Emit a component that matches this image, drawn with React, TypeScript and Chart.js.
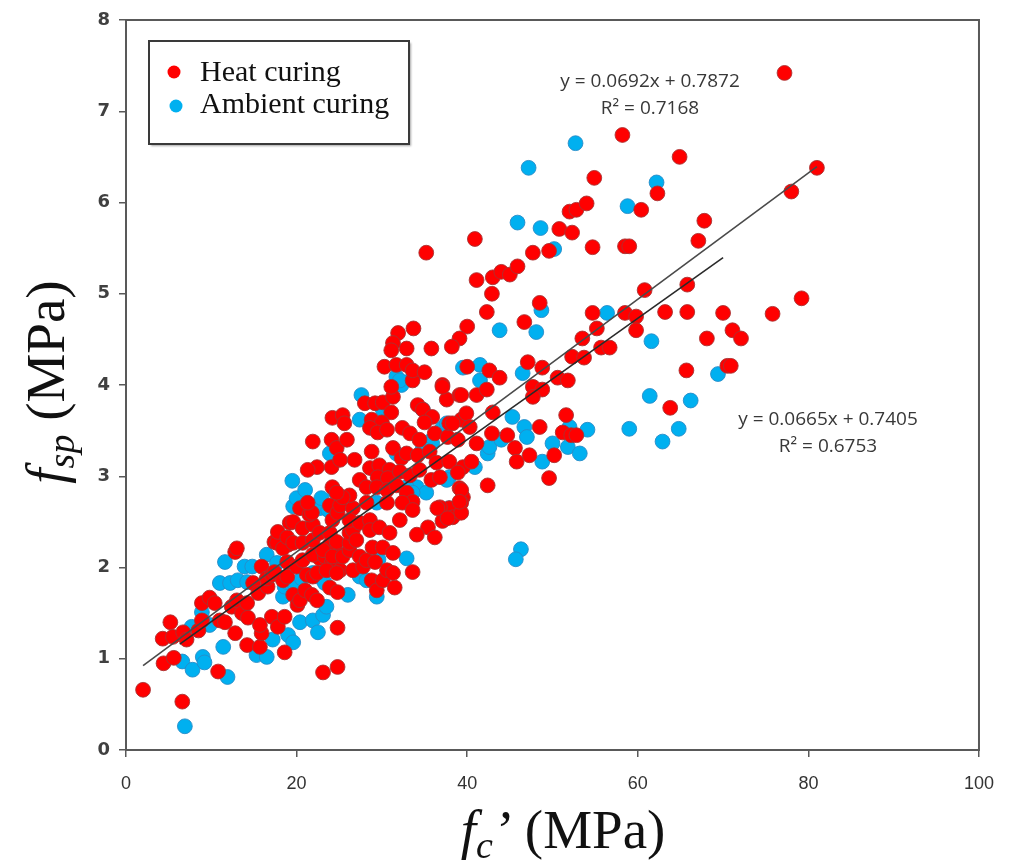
import React, { useEffect, useRef } from "react";
import { Chart, registerables } from "chart.js";

Chart.register(...registerables);

// ---- data ----
const seriesNames = ["Heat curing", "Ambient curing"];

const heatCuring: number[][] = [
  [2.0,0.66],[6.6,0.53],[4.4,0.95],[5.6,1.01],[4.3,1.22],[5.5,1.24],[5.2,1.40],[6.7,1.29],[7.1,1.21],[8.5,1.31],
  [8.9,1.42],[8.9,1.61],[9.8,1.67],[10.8,0.86],[10.4,1.61],[11.0,1.42],[11.6,1.40],[12.4,1.57],[12.8,1.28],[13.0,1.64],
  [12.8,2.17],[13.0,2.21],[13.6,1.50],[14.3,1.45],[14.2,1.15],[14.2,1.61],[14.9,1.83],[15.7,1.13],[15.9,1.28],[15.7,1.37],
  [15.5,1.72],[15.9,2.01],[16.6,1.79],[16.5,1.88],[17.1,1.46],[17.8,1.35],[18.6,1.46],[18.6,1.07],[17.1,1.92],[17.4,1.95],
  [18.4,1.86],[18.9,1.90],[17.4,2.28],[17.7,2.27],[17.8,2.39],[19.0,2.25],[18.4,2.21],[18.9,2.33],[18.9,2.06],[19.2,2.49],
  [19.6,2.50],[19.6,2.27],[19.6,1.70],[20.1,1.59],[20.4,1.64],[20.0,2.01],[20.7,2.08],[20.7,2.27],[20.7,2.43],[20.4,2.65],
  [21.0,1.75],[21.2,1.92],[21.8,1.70],[21.9,1.90],[22.4,1.64],[22.4,1.94],[22.7,2.10],[21.9,2.14],[21.9,2.30],[21.9,2.47],
  [21.5,2.58],[21.8,2.60],[21.3,2.71],[22.7,2.38],[23.1,0.85],[24.8,0.91],[24.8,1.34],[23.9,1.78],[24.8,1.73],[23.3,2.12],
  [24.1,2.05],[24.8,2.16],[23.9,2.25],[25.1,1.97],[23.5,1.97],[24.7,1.94],[23.1,2.19],[24.2,2.12],[23.9,2.38],[24.2,2.52],
  [23.9,2.68],[24.8,2.60],[25.1,2.68],[24.7,2.28],[25.4,2.12],[26.2,2.19],[26.2,2.27],[26.2,2.38],[26.6,2.41],[26.6,2.65],
  [26.2,2.52],[26.2,2.79],[25.4,2.77],[24.2,2.88],[24.7,2.82],[26.6,1.97],[27.0,2.30],[27.4,2.12],[27.8,2.01],[27.4,2.49],
  [28.2,2.71],[28.6,2.52],[28.6,2.41],[28.2,2.08],[28.8,1.86],[28.9,2.22],[29.2,2.06],[29.4,1.75],[29.7,2.44],[30.1,1.86],
  [30.1,2.22],[30.6,1.97],[30.9,2.38],[31.3,1.94],[31.3,2.16],[31.5,1.78],[32.1,2.52],[33.6,1.95],
  [21.9,3.38],[22.4,3.10],[21.3,3.07],[24.1,3.10],[24.1,3.40],[24.7,3.31],[25.1,3.18],[25.9,3.40],[26.8,3.18],[24.2,3.64],
  [25.4,3.67],[25.6,3.58],[28.0,3.80],[29.2,3.80],[30.1,3.81],[31.3,3.87],[31.1,3.98],[33.6,4.05],[31.1,3.70],[28.8,3.62],
  [30.0,3.59],[28.6,3.53],[29.5,3.48],[30.6,3.51],[32.4,3.53],[33.3,3.47],[34.2,3.78],[34.8,3.73],[35.9,3.65],[35.0,3.59],
  [34.4,3.40],[36.2,3.47],[37.7,3.43],[37.9,3.58],[38.9,3.40],[39.3,3.62],[37.1,4.00],[37.6,3.84],[39.1,3.89],[28.8,3.27],
  [31.3,3.31],[32.3,3.20],[32.9,3.25],[34.2,3.23],[35.6,3.27],[36.4,3.15],[37.9,3.16],[39.5,3.10],[28.6,3.09],[29.7,3.12],
  [30.9,3.07],[29.5,2.99],[30.7,2.98],[32.1,3.05],[33.3,3.01],[34.4,3.07],[35.8,2.96],[36.8,2.99],[38.9,3.04],[27.4,2.96],
  [28.2,2.88],[29.4,2.88],[30.6,2.85],[31.7,2.90],[32.9,2.82],[33.6,2.72],[32.4,2.71],[30.6,2.71],[39.1,2.87],[39.5,2.77],
  [39.3,2.71],[37.9,2.65],[36.8,2.66],[38.3,2.55],[39.3,2.60],[37.1,2.51],[35.4,2.44],[34.1,2.36],[36.2,2.33],[36.5,2.65],
  [37.7,2.54],[33.6,2.63],
  [33.7,4.62],[31.9,4.57],[31.3,4.46],[31.1,4.38],[32.9,4.40],[35.8,4.40],[30.3,4.20],[31.7,4.22],[32.9,4.22],[33.6,4.16],
  [35.0,4.14],[35.2,5.45],[40.9,5.60],[41.1,5.15],[43.0,5.18],[44.0,5.24],[45.0,5.21],[45.9,5.30],[42.9,5.00],[42.3,4.80],
  [40.0,4.64],[39.1,4.51],[38.2,4.42],[40.0,4.20],[42.6,4.16],[43.8,4.08],[37.1,3.98],[39.3,3.89],[41.1,3.89],[42.3,3.95],
  [43.0,3.70],[38.3,3.58],[39.9,3.69],[40.3,3.54],[41.1,3.36],[40.5,3.16],[39.3,2.85],[39.1,2.72],[42.9,3.47],[44.7,3.45],
  [45.6,3.31],[45.8,3.16],[47.3,3.23],[50.2,3.23],[48.5,3.54],[51.6,3.67],[51.2,3.48],[52.2,3.45],[52.8,3.45],[49.6,2.98],
  [42.4,2.90],[46.7,4.69],[48.5,4.90],[47.1,4.25],[48.8,4.19],[50.6,4.08],[51.8,4.05],[47.7,3.98],[48.8,3.95],[47.7,3.87],
  [47.7,5.45],[49.6,5.47],[50.8,5.71],[52.3,5.67],[52.0,5.90],[52.8,5.92],[54.0,5.99],[54.9,6.27],[54.7,5.51],[58.5,5.52],
  [59.0,5.52],[58.2,6.74],[60.4,5.92],[62.3,6.10],[64.9,6.50],[67.8,5.80],[67.1,5.58],[60.8,5.04],[65.8,5.10],[54.7,4.79],
  [55.2,4.62],[53.5,4.51],[55.7,4.41],[56.7,4.41],[52.3,4.31],[53.7,4.30],[58.5,4.79],[59.8,4.75],[59.8,4.60],[63.2,4.80],
  [65.8,4.80],[68.1,4.51],[70.0,4.79],[71.1,4.60],[72.1,4.51],[75.8,4.78],[79.2,4.95],[77.2,7.42],[81.0,6.38],[78.0,6.12],
  [65.7,4.16],[70.5,4.21],[70.9,4.21],[63.8,3.75]
];

const ambientCuring: number[][] = [
  [6.9,0.26],[6.6,0.97],[7.8,0.88],[9.0,1.02],[9.2,0.96],[11.9,0.80],[11.4,1.13],[7.7,1.35],[8.9,1.51],[9.8,1.37],
  [11.6,2.06],[11.0,1.83],[12.2,1.83],[13.1,1.86],[14.2,1.84],[13.9,2.01],[14.8,2.01],[15.3,1.04],[16.5,1.02],[17.2,1.21],
  [19.0,1.26],[19.6,1.18],[20.4,1.40],[21.9,1.42],[22.5,1.29],[23.1,1.48],[23.5,1.57],[18.4,1.68],[18.6,1.79],[18.9,1.84],
  [19.8,1.81],[20.6,1.88],[16.5,2.14],[17.7,2.05],[21.9,1.94],[22.5,1.90],[23.3,1.83],[27.4,1.90],[29.4,1.68],[26.0,1.70],
  [28.2,1.86],[29.6,2.09],[32.9,2.10],[19.6,2.67],[22.7,2.65],[23.7,2.63],[20.0,2.76],[19.5,2.95],[21.0,2.85],[22.9,2.76],
  [24.5,2.83],[29.4,2.71],[23.9,3.25],[27.4,3.62],[27.6,3.89],[30.1,3.73],[31.7,3.25],[32.4,4.03],[31.7,4.09],[33.6,4.08],
  [32.3,4.00],[34.8,3.73],[35.6,3.38],[37.1,3.53],[37.6,3.58],[35.9,3.36],[34.8,3.31],[34.1,2.88],[35.2,2.82],[32.9,2.88],
  [33.6,2.82],[37.9,2.99],[37.6,2.96],[37.9,2.65],[32.1,4.05],[39.5,4.19],[41.5,4.22],[41.5,4.05],[40.9,3.10],[42.4,3.25],
  [42.6,3.32],[44.0,3.40],[45.3,3.65],[46.7,3.54],[47.0,3.43],[48.8,3.16],[50.0,3.36],[51.8,3.32],[52.0,3.54],[53.2,3.25],
  [54.1,3.51],[46.5,4.13],[43.8,4.60],[48.1,4.58],[48.7,4.82],[56.4,4.79],[45.9,5.78],[48.6,5.72],[50.2,5.49],[47.2,6.38],
  [52.7,6.65],[58.8,5.96],[62.2,6.22],[61.6,4.48],[69.4,4.12],[61.4,3.88],[66.2,3.83],[59.0,3.52],[64.8,3.52],[62.9,3.38],
  [46.3,2.20],[45.7,2.09]
];

const xTicks = [0, 20, 40, 60, 80, 100];
const yTicks = [0, 1, 2, 3, 4, 5, 6, 7, 8];

// trend lines: slope, intercept, x-range
const heatFit = { slope: 0.0692, intercept: 0.7872, from: 2.0, to: 81.0 };
const ambientFit = { slope: 0.0665, intercept: 0.7405, from: 6.3, to: 70.0 };
const heatFitLabel = ["y = 0.0692x + 0.7872", "R\u00B2 = 0.7168"];
const ambientFitLabel = ["y = 0.0665x + 0.7405", "R\u00B2 = 0.6753"];

const RED = "#FF0000";
const BLUE = "#00B0F0";

type Part = { t: string; font: string; dy: number };

function drawRich(ctx: CanvasRenderingContext2D, parts: Part[], cx: number, y: number) {
  let total = 0;
  const widths: number[] = [];
  for (const p of parts) {
    ctx.font = p.font;
    const w = ctx.measureText(p.t).width;
    widths.push(w);
    total += w;
  }
  let x = cx - total / 2;
  ctx.textAlign = "left";
  ctx.textBaseline = "alphabetic";
  parts.forEach((p, i) => {
    ctx.font = p.font;
    ctx.fillText(p.t, x, y + p.dy);
    x += widths[i];
  });
}

const decorPlugin = {
  id: "decor",
  afterDraw(chart: any) {
    const ctx: CanvasRenderingContext2D = chart.ctx;
    const a = chart.chartArea;
    ctx.save();
    // frame
    ctx.strokeStyle = "#595959";
    ctx.lineWidth = 2;
    ctx.strokeRect(a.left, a.top, a.right - a.left, a.bottom - a.top);

    // legend box
    ctx.save();
    ctx.shadowColor = "rgba(0,0,0,0.35)";
    ctx.shadowOffsetX = 2;
    ctx.shadowOffsetY = 2;
    ctx.shadowBlur = 2;
    ctx.fillStyle = "#ffffff";
    ctx.fillRect(149, 41, 260, 103);
    ctx.restore();
    ctx.strokeStyle = "#3a3a3a";
    ctx.lineWidth = 2;
    ctx.strokeRect(149, 41, 260, 103);
    ctx.fillStyle = RED;
    ctx.beginPath(); ctx.arc(174, 72, 6.5, 0, Math.PI * 2); ctx.fill();
    ctx.fillStyle = BLUE;
    ctx.beginPath(); ctx.arc(176, 106, 6.5, 0, Math.PI * 2); ctx.fill();
    ctx.fillStyle = "#111";
    ctx.font = '30px "Liberation Serif", "Times New Roman", serif';
    ctx.textAlign = "left";
    ctx.textBaseline = "alphabetic";
    ctx.fillText(seriesNames[0], 200, 81);
    ctx.fillText(seriesNames[1], 200, 113);

    // equation annotations
    ctx.fillStyle = "#383838";
    ctx.font = '19px "Open Sans", sans-serif';
    ctx.textAlign = "center";
    ctx.fillText(heatFitLabel[0], 650, 87);
    ctx.fillText(heatFitLabel[1], 650, 114);
    ctx.fillText(ambientFitLabel[0], 828, 425);
    ctx.fillText(ambientFitLabel[1], 828, 452);

    // axis titles
    ctx.fillStyle = "#111";
    const big = 'italic 55px "Liberation Serif", "Times New Roman", serif';
    const sub = 'italic 38px "Liberation Serif", "Times New Roman", serif';
    const reg = '55px "Liberation Serif", "Times New Roman", serif';
    drawRich(ctx, [
      { t: "f", font: big, dy: 0 },
      { t: "c", font: sub, dy: 10 },
      { t: "\u2019", font: big, dy: 0 },
      { t: " (MPa)", font: reg, dy: 0 },
    ], 563, 848);

    ctx.save();
    ctx.translate(64, 382);
    ctx.rotate(-Math.PI / 2);
    drawRich(ctx, [
      { t: "f", font: big, dy: 0 },
      { t: "sp", font: sub, dy: 10 },
      { t: " (MPa)", font: reg, dy: 0 },
    ], 0, 0);
    ctx.restore();
    ctx.restore();
  },
};

function fitLine(f: { slope: number; intercept: number; from: number; to: number }) {
  return [
    { x: f.from, y: f.slope * f.from + f.intercept },
    { x: f.to, y: f.slope * f.to + f.intercept },
  ];
}

export default function App() {
  const ref = useRef<HTMLCanvasElement | null>(null);

  useEffect(() => {
    if (!ref.current) return;
    const chart = new Chart(ref.current, {
      type: "scatter",
      data: {
        datasets: [
          {
            type: "line",
            label: "heat fit",
            data: fitLine(heatFit),
            borderColor: "#4a4a4a",
            borderWidth: 1.6,
            pointRadius: 0,
            order: 0,
          } as any,
          {
            type: "line",
            label: "ambient fit",
            data: fitLine(ambientFit),
            borderColor: "#2a2a2a",
            borderWidth: 1.6,
            pointRadius: 0,
            order: 0,
          } as any,
          {
            label: seriesNames[0],
            data: heatCuring.map(([x, y]) => ({ x, y })),
            backgroundColor: RED,
            borderColor: "rgba(170,50,50,0.9)",
            borderWidth: 1,
            pointRadius: 7.4,
            order: 1,
          },
          {
            label: seriesNames[1],
            data: ambientCuring.map(([x, y]) => ({ x, y })),
            backgroundColor: BLUE,
            borderColor: "rgba(40,140,200,0.9)",
            borderWidth: 1,
            pointRadius: 7.4,
            order: 2,
          },
        ],
      },
      options: {
        responsive: false,
        animation: false,
        layout: { padding: { top: 20, right: 30, left: 0, bottom: 0 } },
        plugins: { legend: { display: false }, tooltip: { enabled: false } },
        scales: {
          x: {
            type: "linear",
            min: 0,
            max: 100,
            afterBuildTicks: (s: any) => { s.ticks = xTicks.map((v) => ({ value: v })); },
            afterFit: (s: any) => { s.height = 111; },
            grid: { drawOnChartArea: false, color: "#595959", tickLength: 7, lineWidth: 1.5 },
            border: { color: "#595959", width: 2 },
            ticks: {
              color: "#333333",
              padding: 16,
              font: { family: '"Liberation Sans", sans-serif', size: 18 },
            },
          },
          y: {
            type: "linear",
            min: 0,
            max: 8,
            afterBuildTicks: (s: any) => { s.ticks = yTicks.map((v) => ({ value: v })); },
            afterFit: (s: any) => { s.width = 126; },
            grid: { drawOnChartArea: false, color: "#595959", tickLength: 7, lineWidth: 1.5 },
            border: { color: "#595959", width: 2 },
            ticks: {
              color: "#404040",
              padding: 9,
              font: { family: '"DejaVu Sans", sans-serif', size: 18, weight: "bold" },
            },
          },
        },
      },
      plugins: [decorPlugin],
    });
    return () => chart.destroy();
  }, []);

  return (
    <div style={{ position: "absolute", left: 0, top: 0, width: 1010, height: 861, background: "#fff" }}>
      <canvas ref={ref} width={1010} height={861} style={{ width: 1010, height: 861, display: "block" }} />
    </div>
  );
}
